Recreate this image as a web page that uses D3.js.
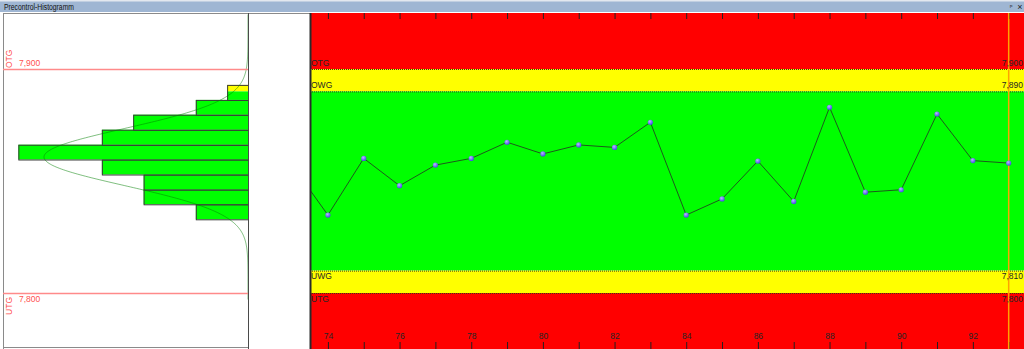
<!DOCTYPE html>
<html><head><meta charset="utf-8">
<script src="https://cdn.jsdelivr.net/npm/d3@7"></script>
<style>html,body{margin:0;padding:0;background:#fff;overflow:hidden}svg{display:block}</style>
</head><body>
<script>
// ---------- data ----------
const title = "Precontrol-Histogramm";
const sampleNo  = [73, 74, 75, 76, 77, 78, 79, 80, 81, 82, 83, 84, 85, 86, 87, 88, 89, 90, 91, 92, 93];
const sampleVal = [7.8571, 7.8348, 7.8601, 7.8479, 7.8571, 7.8601, 7.8673, 7.8621, 7.8661, 7.8650, 7.8762,
                   7.8348, 7.8420, 7.8589, 7.8409, 7.8829, 7.8450, 7.8461, 7.8799, 7.8591, 7.8580];
const limitNames  = ["OTG", "OWG", "UWG", "UTG"];
const limitValues = [7.900, 7.890, 7.810, 7.800];
const histLimitNames  = ["OTG", "UTG"];
const histLimitValues = [7.900, 7.800];
const xTickValues = [74, 75, 76, 77, 78, 79, 80, 81, 82, 83, 84, 85, 86, 87, 88, 89, 90, 91, 92, 93];
const xTickLabels = ["74", "", "76", "", "78", "", "80", "", "82", "", "84", "", "86", "", "88", "", "90", "", "92", ""];
const histEdges  = [7.8329, 7.8396, 7.8462, 7.8529, 7.8596, 7.8662, 7.8729, 7.8796, 7.8862, 7.8929];
const histCounts = [5, 10, 10, 14, 22, 14, 11, 5, 2];
const curveMean = 7.8607, curveSd = 0.01272, sampleCount = 93;
const currentSample = 93;

// ---------- layout ----------
const W = 1024, H = 349;
const yTop = 13, yBot = 349;
const histL = 3, histR = 248;
const chartL = 310, chartR = 1024;
const FONT = "'Liberation Sans', Arial, sans-serif";

const svg = d3.select("body").append("svg").attr("width", W).attr("height", H)
  .style("font-family", FONT);

const y = d3.scaleLinear().domain([7.775, 7.925]).range([yBot, yTop]);
const x = d3.scaleLinear().domain([73.5, 93.5]).range([chartL, chartL + 20 * 35.83]);
const hx = d3.scaleLinear().domain([0, 23.47]).range([histR, histL]);

const fmt = v => d3.format(".3f")(v).replace(".", ",");

const zoneBounds = [y.domain()[1], ...limitValues, y.domain()[0]];
const zoneColors = ["#ff0000", "#ffff00", "#00ff00", "#ffff00", "#ff0000"];

const defs = svg.append("defs");
const g1 = defs.append("radialGradient").attr("id", "ball").attr("cx", "40%").attr("cy", "35%").attr("r", "65%");
g1.append("stop").attr("offset", "0%").attr("stop-color", "#b8b8ff");
g1.append("stop").attr("offset", "100%").attr("stop-color", "#4848e8");
defs.append("clipPath").attr("id", "clipChart").append("rect")
  .attr("x", chartL).attr("y", yTop).attr("width", chartR - chartL).attr("height", yBot - yTop);
defs.append("clipPath").attr("id", "clipHist").append("rect")
  .attr("x", histL).attr("y", yTop).attr("width", histR - histL).attr("height", yBot - yTop);

// ---------- title bar ----------
svg.append("rect").attr("x", 0).attr("y", 0).attr("width", W).attr("height", 12).attr("fill", "#9fb6d3");
svg.append("rect").attr("x", 0).attr("y", 0).attr("width", W).attr("height", 1.5).attr("fill", "#e3e8ef");
svg.append("text").attr("x", 4).attr("y", 9.6).attr("font-size", 8.5).attr("fill", "#111")
  .attr("textLength", 70).attr("lengthAdjust", "spacingAndGlyphs").text(title);
svg.append("text").attr("x", 1011).attr("y", 9).attr("font-size", 7).attr("fill", "#222")
  .attr("text-anchor", "middle").text("ᵖ");
svg.append("text").attr("x", 1020).attr("y", 9.5).attr("font-size", 9).attr("fill", "#222")
  .attr("text-anchor", "middle").text("×");

// ---------- left histogram panel ----------
svg.append("line").attr("x1", histL).attr("x2", chartL).attr("y1", yTop + 0.5).attr("y2", yTop + 0.5)
  .attr("stroke", "#8a8a8a");
svg.append("line").attr("x1", histL + 0.5).attr("x2", histL + 0.5).attr("y1", yTop).attr("y2", yBot)
  .attr("stroke", "#8a8a8a");
svg.append("line").attr("x1", histL).attr("x2", histR).attr("y1", yBot - 1.5).attr("y2", yBot - 1.5)
  .attr("stroke", "#8a8a8a");

const hg = svg.append("g").attr("clip-path", "url(#clipHist)");
histCounts.forEach((c, i) => {
  const lo = histEdges[i], hi = histEdges[i + 1];
  for (let z = 0; z < zoneColors.length; z++) {
    const zHi = zoneBounds[z], zLo = zoneBounds[z + 1];
    const a = Math.max(lo, zLo), b = Math.min(hi, zHi);
    if (b > a) {
      hg.append("rect").attr("x", hx(c)).attr("y", y(b)).attr("width", hx(0) - hx(c))
        .attr("height", y(a) - y(b)).attr("fill", zoneColors[z]);
    }
  }
  hg.append("rect").attr("x", hx(c) + 0.5).attr("y", y(hi) + 0.5).attr("width", hx(0) - hx(c))
    .attr("height", y(lo) - y(hi)).attr("fill", "none").attr("stroke", "#3a3a3a").attr("stroke-width", 1);
});

const binWidth = histEdges[1] - histEdges[0];
const pdf = v => Math.exp(-0.5 * ((v - curveMean) / curveSd) ** 2) / (curveSd * Math.sqrt(2 * Math.PI));
const curvePts = d3.range(curveMean - 5 * curveSd, curveMean + 5 * curveSd, curveSd / 40);
hg.append("path")
  .attr("d", d3.line().x(v => hx(sampleCount * binWidth * pdf(v))).y(v => y(v)).curve(d3.curveBasis)(curvePts))
  .attr("fill", "none").attr("stroke", "rgba(0,128,0,0.5)").attr("stroke-width", 1);

histLimitNames.forEach((n, i) => {
  const v = histLimitValues[i], yy = y(v);
  const upper = i === 0;
  svg.append("line").attr("x1", histL).attr("x2", histR).attr("y1", yy + 0.5).attr("y2", yy + 0.5)
    .attr("stroke", "#ff8a8a").attr("stroke-width", 1.5);
  svg.append("text").attr("x", 19).attr("y", upper ? yy - 3 : yy + 9)
    .attr("font-size", 8.5).attr("fill", "#ff5050").text(fmt(v));
  svg.append("text")
    .attr("transform", `translate(11.5,${upper ? yy - 1 : yy + 4}) rotate(-90)`)
    .attr("text-anchor", upper ? "start" : "end")
    .attr("font-size", 8.5).attr("fill", "#ff5050").text(n);
});

svg.append("line").attr("x1", histR + 0.5).attr("x2", histR + 0.5).attr("y1", yTop).attr("y2", yBot)
  .attr("stroke", "#4a4a4a");

// ---------- right precontrol chart ----------
const cg = svg.append("g").attr("clip-path", "url(#clipChart)");
zoneColors.forEach((c, z) => {
  cg.append("rect").attr("x", chartL).attr("width", chartR - chartL)
    .attr("y", y(zoneBounds[z])).attr("height", y(zoneBounds[z + 1]) - y(zoneBounds[z])).attr("fill", c);
});
limitNames.forEach((n, i) => {
  const v = limitValues[i], yy = y(v);
  const upper = i < 2;
  cg.append("line").attr("x1", chartL).attr("x2", chartR).attr("y1", yy + 0.5).attr("y2", yy + 0.5)
    .attr("stroke", "#3a3a1a").attr("stroke-width", 1).attr("stroke-dasharray", "1,1");
  cg.append("text").attr("x", chartL + 1).attr("y", upper ? yy - 3.5 : yy + 8.5)
    .attr("font-size", 8.5).attr("fill", "#262626").text(n);
});

// axes (ticks)
const axTop = d3.axisTop(x).tickValues(xTickValues).tickSize(-6).tickSizeOuter(0).tickFormat("");
const gTop = cg.append("g").attr("transform", `translate(0,${yTop})`).call(axTop);
gTop.select(".domain").remove();
gTop.selectAll("line").attr("stroke", "#222");

const axBot = d3.axisBottom(x).tickValues(xTickValues).tickSize(-7).tickSizeOuter(0)
  .tickFormat((d, i) => xTickLabels[i]);
const gBot = cg.append("g").attr("transform", `translate(0,${yBot})`).call(axBot);
gBot.select(".domain").remove();
gBot.selectAll("line").attr("stroke", "#222");
gBot.selectAll("text").attr("y", -10).attr("dy", 0).attr("font-size", 8.5)
  .attr("font-family", FONT).attr("fill", "#262626");

// series line
cg.append("path")
  .attr("d", d3.line().x((d, i) => x(sampleNo[i])).y(d => y(d))(sampleVal))
  .attr("fill", "none").attr("stroke", "#1d5a1d").attr("stroke-width", 1);

// current sample marker line
cg.append("line").attr("x1", x(currentSample)).attr("x2", x(currentSample)).attr("y1", yTop).attr("y2", yBot)
  .attr("stroke", "#ffa200").attr("stroke-width", 1.5);

// right value labels
limitNames.forEach((n, i) => {
  const v = limitValues[i], yy = y(v);
  const upper = i < 2;
  cg.append("text").attr("x", chartR - 1).attr("y", upper ? yy - 3.5 : yy + 8.5)
    .attr("text-anchor", "end").attr("font-size", 8.5).attr("fill", "#262626").text(fmt(v));
});

// points
cg.selectAll("circle.pt").data(sampleVal).enter().append("circle").attr("class", "pt")
  .attr("cx", (d, i) => x(sampleNo[i])).attr("cy", d => y(d)).attr("r", 2.6)
  .attr("fill", "url(#ball)");

svg.append("line").attr("x1", chartL + 0.5).attr("x2", chartL + 0.5).attr("y1", yTop).attr("y2", yBot)
  .attr("stroke", "#2a2a2a").attr("stroke-width", 2);
</script>
</body></html>
